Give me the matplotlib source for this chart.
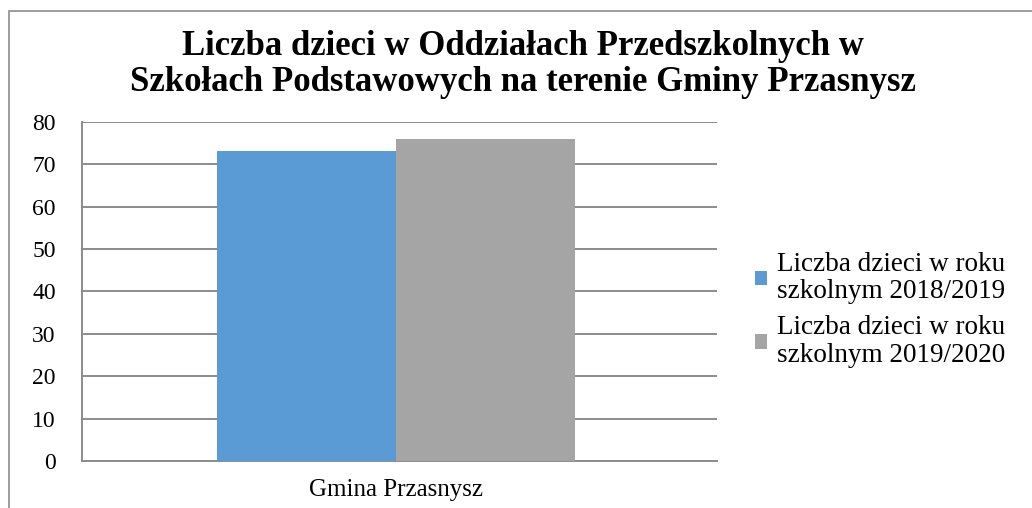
import matplotlib.pyplot as plt
import numpy as np
from matplotlib.patches import Rectangle

# data
categories = ["Gmina Przasnysz"]
series_labels = ["Liczba dzieci w roku\nszkolnym 2018/2019",
                 "Liczba dzieci w roku\nszkolnym 2019/2020"]
values_2018 = [73]
values_2019 = [76]
colors = ["#5b9bd5", "#a5a5a5"]

plt.rcParams['font.family'] = ['Liberation Serif', 'DejaVu Serif']

fig = plt.figure(figsize=(10.32, 5.08), dpi=100)
ax = fig.add_axes([0.0795, 0.0925, 0.615, 0.668])

# chart frame (only top and left visible in reference)
fig.patches.append(Rectangle((9 / 1032, -0.1), 1.2, 1 - 11 / 508 + 0.1,
                             transform=fig.transFigure, fill=False,
                             edgecolor="#8c8c8c", linewidth=1.2))

x = np.arange(len(categories))
w = 0.282
ax.bar(x - w / 2, values_2018, w, color=colors[0], label=series_labels[0], zorder=3)
ax.bar(x + w / 2, values_2019, w, color=colors[1], label=series_labels[1], zorder=3)

ax.set_xlim(-0.494, 0.506)
ax.set_ylim(0, 80)
ax.set_yticks(np.arange(0, 81, 10))
ax.set_xticks(x)
ax.set_xticklabels(categories, fontsize=18)
ax.tick_params(axis='y', length=0, pad=19, labelsize=17)
ax.tick_params(axis='x', length=0, pad=13)

ax.grid(axis='y', color="#8c8c8c", linewidth=1.4, zorder=0)
for s in ['top', 'right']:
    ax.spines[s].set_visible(False)
for s in ['left', 'bottom']:
    ax.spines[s].set_color("#8c8c8c")
    ax.spines[s].set_linewidth(1.4)

fig.text(0.507, 0.874, "Liczba dzieci w Oddziałach Przedszkolnych w\n"
         "Szkołach Podstawowych na terenie Gminy Przasnysz",
         ha='center', va='center', fontsize=25, fontweight='bold', linespacing=1.12)

leg = fig.legend(loc='center left', bbox_to_anchor=(0.708, 0.39), frameon=False,
                 fontsize=19.5, handlelength=0.45, handleheight=0.45, handletextpad=0.35,
                 labelspacing=0.4)
for t in leg.get_texts():
    t.set_linespacing(1.13)

plt.savefig("out.png", dpi=100)
